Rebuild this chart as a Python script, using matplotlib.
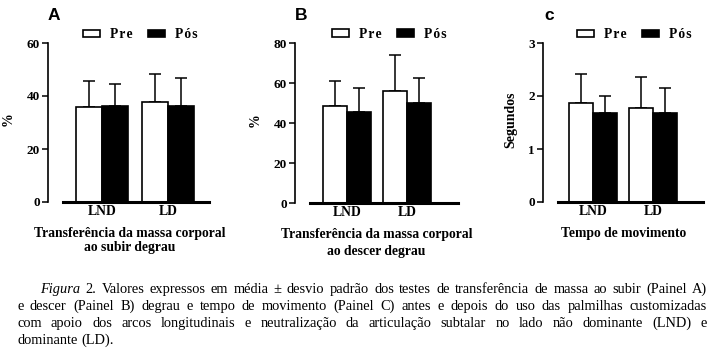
import matplotlib
matplotlib.use('Agg')
import matplotlib.pyplot as plt
from matplotlib.patches import Patch
import numpy as np

# ==========================================
# DATOS
# ==========================================
categorias = ['LND', 'LD']
series = ['Pre', 'Pós']

# Painel A: transferência ao subir degrau (%)
pre_a = [35.8, 37.8]
pre_a_sd = [9.8, 10.5]
pos_a = [36.2, 36.3]
pos_a_sd = [8.3, 10.5]

# Painel B: transferência ao descer degrau (%)
pre_b = [48.5, 56.0]
pre_b_sd = [12.5, 18.0]
pos_b = [45.5, 50.0]
pos_b_sd = [12.0, 12.5]

# Painel C: tempo de movimento (s)
pre_c = [1.87, 1.78]
pre_c_sd = [0.55, 0.58]
pos_c = [1.67, 1.68]
pos_c_sd = [0.33, 0.48]

yticks_a = [0, 20, 40, 60]
yticks_b = [0, 20, 40, 60, 80]
yticks_c = [0, 1, 2, 3]

titulo_a = "Transferência da massa corporal\nao subir degrau"
titulo_b = "Transferência da massa corporal\nao descer degrau"
titulo_c = "Tempo de movimento"

legenda_caption = [
    "Figura 2. Valores expressos em média ± desvio padrão dos testes de transferência de massa ao subir (Painel A)",
    "e descer (Painel B) degrau e tempo de movimento (Painel C) antes e depois do uso das palmilhas customizadas",
    "com apoio dos arcos longitudinais e neutralização da articulação subtalar no lado não dominante (LND) e",
    "dominante (LD).",
]

# ==========================================
# ESTILO
# ==========================================
SERIF = ['Liberation Serif', 'DejaVu Serif']
SANS = ['Liberation Sans', 'DejaVu Sans']
W, H = 715, 352


def espaciar(txt):
    return '\u200a'.join(txt)


def dibujar_panel(ax, pre, pre_sd, pos, pos_sd, yticks, ylabel, titulo,
                  xlim, ancho, ylab_x, leg_x, titulo_x, interlinea):
    # los spines primero: set_position reinicia los ticks
    for s in ['top', 'right']:
        ax.spines[s].set_visible(False)
    ax.spines['left'].set_position(('outward', 11))
    ax.spines['left'].set_linewidth(1.2)
    ax.spines['bottom'].set_linewidth(2.2)
    ax.spines['bottom'].set_zorder(3)

    x = np.arange(len(categorias))
    ax.bar(x - ancho / 2, pre, ancho, color='white', edgecolor='black',
           linewidth=1.2, zorder=2)
    ax.bar(x + ancho / 2, pos, ancho, color='black', edgecolor='black',
           linewidth=1.2, zorder=2)
    ax.errorbar(x - ancho / 2, pre, yerr=[np.zeros(len(pre)), pre_sd],
                fmt='none', ecolor='black', elinewidth=1.1, capsize=4.5,
                capthick=1.1, zorder=1)
    ax.errorbar(x + ancho / 2, pos, yerr=[np.zeros(len(pos)), pos_sd],
                fmt='none', ecolor='black', elinewidth=1.1, capsize=4.5,
                capthick=1.1, zorder=1)

    ax.set_xlim(*xlim)
    ax.set_ylim(yticks[0], yticks[-1])
    ax.set_yticks(yticks)
    ax.set_yticklabels([str(t) for t in yticks], family=SERIF,
                       fontweight='bold', fontsize=9.5)
    ax.set_xticks(x)
    ax.set_xticklabels(categorias, family=SERIF, fontweight='bold',
                       fontsize=9.8)
    ax.tick_params(axis='x', length=0, pad=2)
    ax.tick_params(axis='y', direction='out', length=4, width=1.1, pad=1.5)

    ax.set_ylabel(ylabel, family=SERIF, fontweight='bold', fontsize=10)
    ax.yaxis.set_label_coords(ylab_x, 0.52)

    handles = [Patch(facecolor='white', edgecolor='black', linewidth=1.2),
               Patch(facecolor='black', edgecolor='black', linewidth=1.2)]
    ax.legend(handles, [espaciar(s) for s in series], ncol=2,
              loc='center left', bbox_to_anchor=(leg_x, 1.052),
              frameon=False, borderpad=0, borderaxespad=0,
              handlelength=1.25, handleheight=0.5, handletextpad=0.75,
              columnspacing=1.1,
              prop={'family': SERIF, 'weight': 'bold', 'size': 9.8})

    ax.text(titulo_x, -0.155, titulo, transform=ax.transAxes, ha='center',
            va='top', family=SERIF, fontweight='bold', fontsize=9.8,
            linespacing=interlinea)


fig = plt.figure(figsize=(W / 100, H / 100), dpi=100)

ax_a = fig.add_axes([63 / W, 150 / H, 146 / W, 159 / H])
ax_b = fig.add_axes([310 / W, 149 / H, 148 / W, 160 / H])
ax_c = fig.add_axes([558 / W, 150 / H, 145 / W, 159 / H])

dibujar_panel(ax_a, pre_a, pre_a_sd, pos_a, pos_a_sd, yticks_a, '%', titulo_a,
              (-0.59, 1.62), 0.39, -0.33, 0.137, 0.46, 1.15)
dibujar_panel(ax_b, pre_b, pre_b_sd, pos_b, pos_b_sd, yticks_b, '%', titulo_b,
              (-0.62, 1.85), 0.40, -0.325, 0.149, 0.45, 1.45)
dibujar_panel(ax_c, pre_c, pre_c_sd, pos_c, pos_c_sd, yticks_c, 'Segundos',
              titulo_c, (-0.58, 1.83), 0.40, -0.283, 0.131, 0.455, 1.0)

# letras de los paneles
for letra, px in [('A', 48), ('B', 295), ('c', 544)]:
    fig.text(px / W, 1 - 20 / H, letra, family=SANS, fontweight='bold',
             fontsize=12.5, ha='left', va='baseline')

# ==========================================
# LEYENDA DE LA FIGURA (texto justificado)
# ==========================================
renderer = fig.canvas.get_renderer()
izq, der = 17, 707
baselines = [293, 310, 327, 344]
tam = 10.4
for i, linea in enumerate(legenda_caption):
    palabras = linea.split(' ')
    x0 = 40 if i == 0 else izq
    textos = []
    anchos = []
    for j, p in enumerate(palabras):
        estilo = 'italic' if (i == 0 and j == 0) else 'normal'
        t = fig.text(0, 1 - baselines[i] / H, p, family=SERIF, fontsize=tam,
                     style=estilo, va='baseline', ha='left')
        bb = t.get_window_extent(renderer)
        textos.append(t)
        anchos.append(bb.width)
    if i == len(legenda_caption) - 1:
        esp = fig.text(0, 0, 'a a', family=SERIF, fontsize=tam)
        ea = esp.get_window_extent(renderer).width
        esp.set_text('aa')
        ea -= esp.get_window_extent(renderer).width
        esp.remove()
        hueco = ea
    else:
        hueco = (der - x0 - sum(anchos)) / (len(palabras) - 1)
    x = x0
    for t, a in zip(textos, anchos):
        t.set_x(x / W)
        x += a + hueco

fig.savefig('out.png', dpi=100)
